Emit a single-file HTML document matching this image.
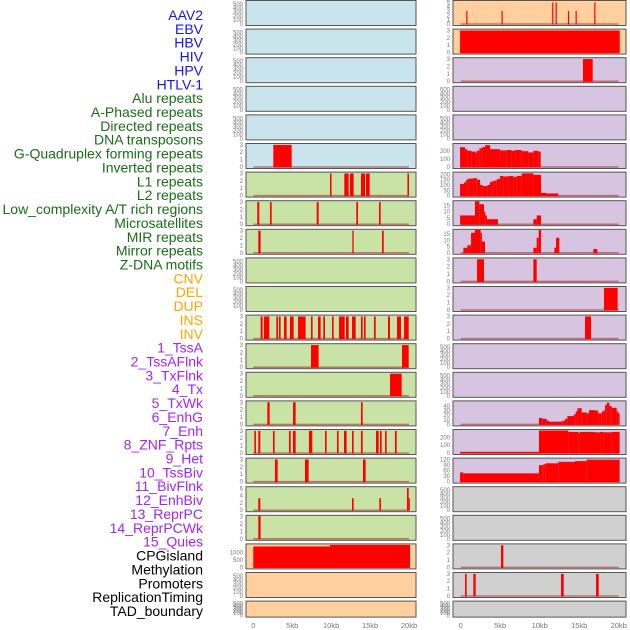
<!DOCTYPE html>
<html><head><meta charset="utf-8"><style>
html,body{margin:0;padding:0;background:#fff;}
svg{display:block;font-family:"Liberation Sans",sans-serif;}
</style></head><body>
<svg id="chart" width="630" height="630" viewBox="0 0 630 630" xmlns="http://www.w3.org/2000/svg"></svg>
<script>
const labels=["AAV2","EBV","HBV","HIV","HPV","HTLV-1","Alu repeats","A-Phased repeats","Directed repeats","DNA transposons","G-Quadruplex forming repeats","Inverted repeats","L1 repeats","L2 repeats","Low_complexity A/T rich regions","Microsatellites","MIR repeats","Mirror repeats","Z-DNA motifs","CNV","DEL","DUP","INS","INV","1_TssA","2_TssAFlnk","3_TxFlnk","4_Tx","5_TxWk","6_EnhG","7_Enh","8_ZNF_Rpts","9_Het","10_TssBiv","11_BivFlnk","12_EnhBiv","13_ReprPC","14_ReprPCWk","15_Quies","CPGisland","Methylation","Promoters","ReplicationTiming","TAD_boundary"];
const labelColors=[];
for(let i=0;i<44;i++){labelColors.push(i<6?"#1515e6":i<19?"#1a6b1a":i<24?"#ffa500":i<39?"#a226f0":"#000");}
const xTickValues=[0,5000,10000,15000,20000];
const xTickLabels=["0","5kb","10kb","15kb","20kb"];
// bars: [startKb,endKb,value]
const leftBars=[[],[],[],[],[],
[[2.57,4.93,3]],
[[9.85,10.05,3],[11.69,12.25,3],[12.42,12.89,3],[13.83,14.35,3],[14.48,14.95,3],[19.8,20.0,3]],
[[0.51,0.77,3],[2.14,2.36,3],[8.14,8.4,3],[13.23,13.45,3],[16.15,16.36,3]],
[[0.64,0.94,3],[12.72,12.89,3],[16.53,16.75,3]],
[],[],
[[0.94,1.2,3],[1.37,2.06,3],[2.96,3.17,3],[3.3,3.51,3],[3.94,4.28,3],[4.71,5.18,3],[5.74,6.72,3],[7.41,7.62,3],[8.31,8.65,3],[8.99,9.21,3],[10.11,10.32,3],[11.01,11.74,3],[11.91,12.25,3],[12.68,13.15,3],[13.83,14.05,3],[14.22,14.43,3],[15.5,15.72,3],[17.3,17.56,3],[18.46,18.97,3],[19.36,19.96,3]],
[[7.41,8.39,3],[19.1,19.96,3]],
[[17.56,19.06,3]],
[[1.8,2.1,3],[5.1,5.44,3],[13.83,14.05,3]],
[[0.13,0.34,3],[0.64,0.9,3],[2.53,2.74,3],[4.58,4.8,3],[5.1,5.44,3],[7.15,7.58,3],[9.21,9.42,3],[10.75,10.96,3],[11.65,11.99,3],[12.68,12.89,3],[13.83,14.05,3],[15.76,16.1,3],[16.28,16.49,3],[16.92,17.13,3],[18.2,18.42,3]],
[[2.78,3.13,3],[6.64,7.11,3],[14.09,14.43,3]],
[[0.64,0.9,3.3],[12.68,12.89,3.3],[16.19,16.4,3.3],[19.74,19.96,6.1],[19.96,20.09,3.3]],
[[0.64,0.94,3.3]],
[[0,9.85,1404],[9.85,20.13,1510]],
[],[]];
const leftYmax=[560,560,560,560,560,3.05,3.05,3.05,3.05,560,560,3.05,3.05,3.05,3.05,3.05,3.05,6.2,3.05,1510,560,560];
const leftTicks=[null,null,null,null,null,[0,1,2,3],[0,1,2,3],[0,1,2,3],[0,1,2,3],null,null,[0,1,2,3],[0,1,2,3],[0,1,2,3],[0,1,2,3],[0,1,2,3],[0,1,2,3],[0,2,4,6],[0,1,2,3],[0,500,1000],null,null];
const txWkStarts=[-0.08,0.55,0.84,1.39,1.81,2.03,2.36,2.66,3.08,3.71,4.98,5.82,6.45,6.88,7.72,8.56,9.2,9.83,10.13];
const txWkValues=[245,220,200,190,180,200,230,245,270,220,205,210,200,210,195,180,200,190];
const enhGStarts=[-0.08,0.42,0.68,0.97,1.6,2.03,2.45,2.78,3.38,3.71,4.05,4.56,4.98,5.4,6.03,6.67,7.09,7.72,9.2,10.17,10.89,12.36];
const enhGValues=[110,125,150,160,165,150,100,90,100,130,140,155,185,180,185,175,185,210,195,25,20];
const tssBivStarts=[9.91,10.34,10.89,11.18,12.87,13.21,13.5,14.34,14.56,14.77,15.32,15.95,16.24,17.0,17.42,17.85,18.06,18.27,18.48,18.82,19.11,19.74,19.96,20.12];
const tssBivValues=[14,12,8,6,8,12,18,22,28,35,26,24,31,30,24,28,30,42,47,40,36,28,24];
const bivFlnkStarts=[-0.08,9.91,13.63,14.89,15.1,17.0,17.64,18.06,19.11,20.12];
const bivFlnkValues=[15,288,270,260,270,265,270,265,270];
const enhBivStarts=[-0.08,0.34,9.91,10.46,10.76,12.36,14.47,15.95,20.12];
const enhBivValues=[50,45,90,95,100,108,112,120];
function steps(st,vals){const o=[];for(let i=0;i<vals.length;i++)o.push([st[i],st[i+1],vals[i]]);return o;}
const rightBars=[
[[0.7,0.82,3],[5.17,5.29,3],[11.58,11.7,5],[12.01,12.13,5],[13.57,13.69,3],[14.54,14.66,3],[16.9,17.02,5]],
[[-0.08,20.13,3]],
[[15.48,16.71,3]],
[],[],
steps(txWkStarts,txWkValues),
steps(enhGStarts,enhGValues),
[[-0.08,1.81,7],[1.81,2.36,18.5],[2.36,2.95,16],[2.95,3.12,10],[3.12,3.33,7],[3.33,4.72,4],[9.2,9.62,4],[9.62,10.17,7]],
[[0.34,0.84,4],[0.84,1.31,6],[1.31,1.81,16],[1.81,2.53,18.5],[2.53,2.66,16],[2.66,3.08,9],[9.2,9.62,4],[9.62,9.87,12],[9.87,10.17,18.5],[11.86,12.07,4],[12.07,12.49,12],[16.79,17.3,3]],
[[2.07,2.95,3],[9.2,9.62,3]],
[[18.14,19.87,3]],
[[15.74,16.5,3]],
[],[],
steps(tssBivStarts,tssBivValues),
steps(bivFlnkStarts,bivFlnkValues),
steps(enhBivStarts,enhBivValues),
[],[],
[[5.1,5.4,3]],
[[0.55,0.76,3],[1.6,1.9,3],[12.7,13.04,3],[17.13,17.47,3]],
[]];
const rightYmax=[5.2,3.05,3.05,560,560,278,212,18,18,3.05,3.05,3.05,560,560,48.8,288,123,560,560,3.05,3.05,560];
const rightTicks=[[0,1,2,3,4,5],[0,1,2,3],[0,1,2,3],null,null,[0,100,200],[0,50,100,150,200],[0,5,10,15],[0,5,10,15],[0,1,2,3],[0,1,2,3],[0,1,2,3],null,null,[0,10,20,30,40],[0,100,200],[0,30,60,90,120],null,null,[0,1,2,3],[0,1,2,3],null];
const leftFill=i=>i<6?"#c9e4ec":i<19?"#c9e2a6":"#ffcf9e";
const rightFill=i=>i<2?"#ffcf9e":i<17?"#d6c4e1":"#d0d0d0";

const NS="http://www.w3.org/2000/svg";
const svg=document.getElementById("chart");
function mk(tag,attrs,parent){const e=document.createElementNS(NS,tag);for(const k in attrs)e.setAttribute(k,attrs[k]);(parent||svg).appendChild(e);return e;}
const rowTop=i=>0.5+i*28.6;
const rowH=i=>i===21?16:25;
const cols=[{x0:246,x1:416,z:253.3,w:155.7,bars:leftBars,ymax:leftYmax,ticks:leftTicks,fill:leftFill,name:"left"},
            {x0:453,x1:626,z:460.7,w:158,bars:rightBars,ymax:rightYmax,ticks:rightTicks,fill:rightFill,name:"right"}];
// labels
labels.forEach((t,i)=>{
  const e=mk("text",{x:203,y:20+i*13.86,"text-anchor":"end","font-size":"14",fill:labelColors[i]});
  e.textContent=t;
  
  
});
cols.forEach((c,ci)=>{
  const xs=kb=>c.z+kb*1000/20000*c.w;
  for(let i=0;i<22;i++){
    const top=rowTop(i),h=rowH(i),bot=top+h-1.5;
    const g=mk("g",{});
    
    
    const r=mk("rect",{x:c.x0,y:top,width:c.x1-c.x0,height:h,fill:c.fill(i),stroke:"#555","stroke-width":1},g);
    
    
    const ymax=c.ymax[i];
    const ys=v=>bot-Math.min(v,ymax*1.02)/ymax*(h-2.5);
    const bars=c.bars[i];
    if(bars.length){
      const bl=mk("line",{x1:xs(0),x2:xs(20),y1:bot,y2:bot,stroke:"#b02020","stroke-opacity":0.55,"stroke-width":1.5},g);
      
      
    }
    bars.forEach(b=>{
      const x=xs(b[0]),w=Math.max(1.2,xs(b[1])-x),y=ys(b[2]);
      const br=mk("rect",{x:x,y:y,width:w,height:bot-y+0.5,fill:"#ff0000"},g);
      
      
    });
    let ticks=c.ticks[i];
    if(!ticks){
      ticks=[0,100,200,300,400,500];
    }
    ticks.forEach(t=>{
      const ty=ys(t);
      const tt=mk("text",{x:c.x0-3,y:ty+2,"text-anchor":"end","font-size":"6",fill:"#777"},g);
      tt.textContent=t;
      
      
    });
  }
  xTickValues.forEach((v,k)=>{
    const tx=mk("text",{x:xs(v/1000),y:628,"text-anchor":"middle","font-size":"7.5",fill:"#777"});
    tx.textContent=xTickLabels[k];
    
    
  });
});
</script>
</body></html>
